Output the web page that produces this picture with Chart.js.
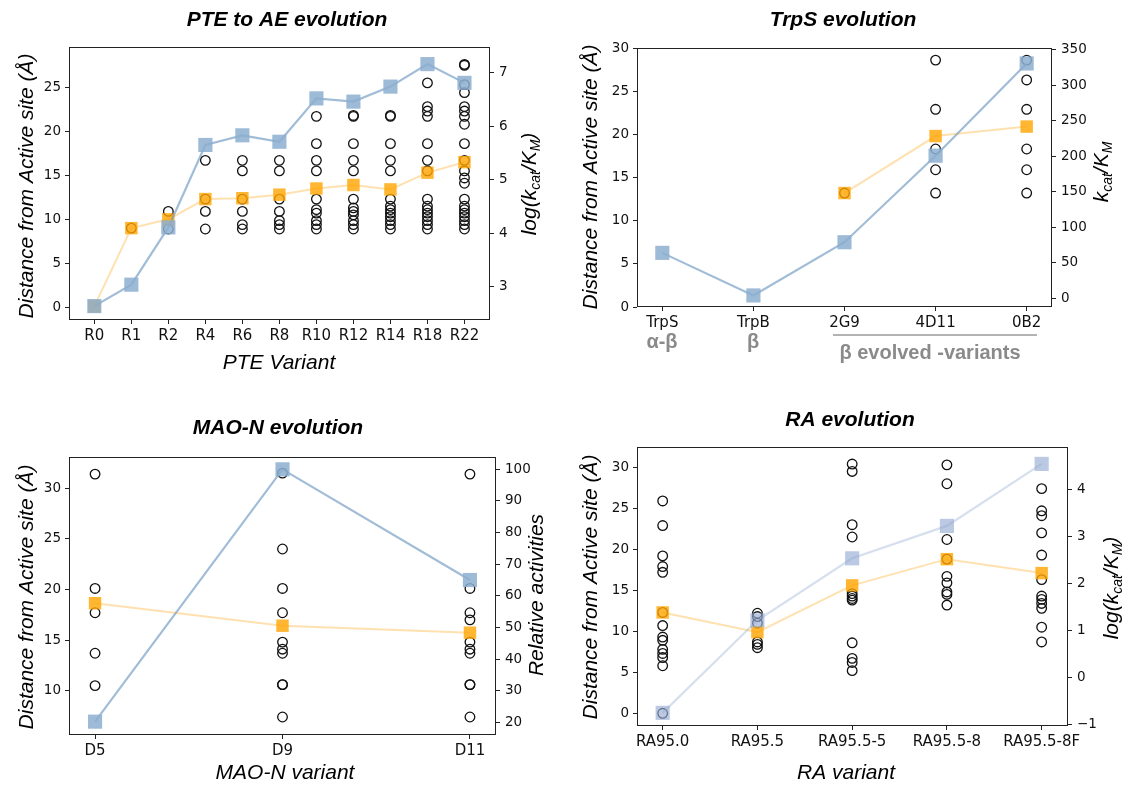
<!DOCTYPE html>
<html>
<head>
<meta charset="utf-8">
<script src="https://cdn.jsdelivr.net/npm/chart.js@4/dist/chart.umd.min.js"></script>
<style>
  body { margin: 0; background: #fff; width: 1125px; height: 785px; position: relative; overflow: hidden; }
  canvas { position: absolute; }
</style>
</head>
<body>
<canvas id="pte"></canvas>
<canvas id="trps"></canvas>
<canvas id="mao"></canvas>
<canvas id="ra"></canvas>
<script>
// ---- PTE to AE evolution ----
const pteVariants = ['R0', 'R1', 'R2', 'R4', 'R6', 'R8', 'R10', 'R12', 'R14', 'R18', 'R22'];
const pteActivity = [2.64, 3.04, 4.11, 5.65, 5.83, 5.71, 6.52, 6.46, 6.74, 7.16, 6.81];
const pteMeanDist = [0.1, 9.0, 10.0, 12.3, 12.4, 12.8, 13.5, 13.9, 13.4, 15.3, 16.5];
const pteDistances = [
  [],
  [9.0],
  [10.9, 8.9],
  [16.7, 12.3, 10.9, 8.9],
  [16.7, 15.5, 12.3, 10.9, 9.4, 8.9],
  [16.7, 15.5, 12.3, 10.9, 9.85, 9.4, 8.9],
  [21.7, 18.6, 16.7, 15.5, 12.3, 11.1, 10.7, 9.85, 9.4, 8.9],
  [21.7, 21.8, 18.6, 16.7, 15.5, 12.3, 11.3, 10.9, 10.5, 9.85, 9.4, 8.9],
  [21.7, 21.8, 18.6, 16.7, 15.5, 12.3, 11.5, 11.1, 10.7, 10.3, 9.85, 9.4, 8.9],
  [25.5, 22.8, 22.3, 21.7, 18.6, 16.7, 15.5, 12.3, 11.5, 11.1, 10.7, 10.3, 9.85, 9.4, 8.9],
  [27.6, 27.5, 25.3, 24.4, 22.8, 22.3, 21.7, 20.8, 18.6, 16.7, 15.5, 14.7, 14.1, 12.3, 11.5, 11.1, 10.7, 10.3, 9.85, 9.4, 8.9]
];
const pteLeftTicks = [0, 5, 10, 15, 20, 25];
const pteRightTicks = [3, 4, 5, 6, 7];

// ---- TrpS evolution ----
const trpVariants = ['TrpS', 'TrpB', '2G9', '4D11', '0B2'];
const trpActivity = [64, 4, 79, 201, 331];
const trpMeanDist = [null, null, 13.2, 19.8, 20.9];
const trpDistances = [[], [], [13.2], [28.6, 22.9, 18.3, 15.9, 13.2], [28.6, 26.3, 22.9, 18.3, 15.9, 13.2]];
const trpLeftTicks = [0, 5, 10, 15, 20, 25, 30];
const trpRightTicks = [0, 50, 100, 150, 200, 250, 300, 350];

// ---- MAO-N evolution ----
const maoVariants = ['D5', 'D9', 'D11'];
const maoActivity = [20.2, 100, 65];
const maoMeanDist = [18.64, 16.42, 15.73];
const maoDistances = [
  [31.4, 20.1, 17.7, 13.7, 10.5],
  [31.5, 24.0, 20.1, 17.7, 14.8, 14.1, 13.7, 10.6, 10.6, 7.4],
  [31.4, 20.1, 17.7, 17.0, 14.8, 14.1, 13.7, 10.6, 10.6, 7.4]
];
const maoLeftTicks = [10, 15, 20, 25, 30];
const maoRightTicks = [20, 30, 40, 50, 60, 70, 80, 90, 100];

// ---- RA evolution ----
const raVariants = ['RA95.0', 'RA95.5', 'RA95.5-5', 'RA95.5-8', 'RA95.5-8F'];
const raActivity = [-0.76, 1.21, 2.53, 3.22, 4.54];
const raMeanDist = [12.3, 9.9, 15.6, 18.8, 17.1];
const raDistances = [
  [25.9, 22.9, 19.2, 17.9, 17.2, 12.3, 10.7, 9.3, 8.9, 7.8, 7.3, 6.8, 5.8, 0],
  [12.2, 11.8, 11.0, 8.7, 8.4, 8.0],
  [30.4, 29.5, 23.0, 21.5, 14.6, 14.3, 14.0, 13.8, 8.6, 6.7, 6.2, 5.2],
  [30.3, 28.0, 21.2, 18.8, 16.7, 15.9, 14.8, 14.5, 13.2],
  [27.4, 24.7, 24.1, 22.0, 19.3, 16.3, 14.3, 13.9, 13.4, 12.8, 10.5, 8.7]
];
const raLeftTicks = [0, 5, 10, 15, 20, 25, 30];
const raRightTicks = [-1, 0, 1, 2, 3, 4];

const TITLE_FONT = 'bold italic 21px "Liberation Sans", Arial, sans-serif';
const LABEL_FONT = 'italic 21px "Liberation Sans", Arial, sans-serif';
const SUB_FONT = 'italic 14px "Liberation Sans", Arial, sans-serif';
const GRAY_FONT = 'bold 20px "Liberation Sans", Arial, sans-serif';
const DIST_LABEL = 'Distance from Active site (Å)';
const logKcat = [{t: 'log(k'}, {t: 'cat', sub: true}, {t: '/K'}, {t: 'M', sub: true}, {t: ')'}];
const kcat = [{t: 'k'}, {t: 'cat', sub: true}, {t: '/K'}, {t: 'M', sub: true}];

function drawParts(ctx, parts, x, y, rotate, font, color) {
  ctx.save();
  ctx.translate(x, y);
  if (rotate) ctx.rotate(-Math.PI / 2);
  ctx.fillStyle = color || '#000';
  ctx.textBaseline = 'middle';
  ctx.textAlign = 'left';
  let total = 0;
  parts.forEach(p => { ctx.font = p.sub ? SUB_FONT : font; total += ctx.measureText(p.t).width; });
  let cx = -total / 2;
  parts.forEach(p => {
    ctx.font = p.sub ? SUB_FONT : font;
    ctx.fillText(p.t, cx, p.sub ? 6 : 0);
    cx += ctx.measureText(p.t).width;
  });
  ctx.restore();
}

// frame round the plot + all the titles (page coordinates, shifted to the canvas)
const textPlugin = {
  id: 'panelText',
  afterDraw(chart, args, o) {
    const ctx = chart.ctx;
    const a = chart.chartArea;
    const [x0, y0] = o.origin;
    ctx.save();
    ctx.strokeStyle = '#222';
    ctx.lineWidth = 1;
    ctx.strokeRect(Math.round(a.left) + 0.5, Math.round(a.top) + 0.5, Math.round(a.right - a.left) - 1, Math.round(a.bottom - a.top) - 1);
    (o.lines || []).forEach(l => {
      ctx.strokeStyle = l.color;
      ctx.lineWidth = l.width;
      ctx.beginPath();
      ctx.moveTo(l.x1 - x0, l.y - y0);
      ctx.lineTo(l.x2 - x0, l.y - y0);
      ctx.stroke();
    });
    o.texts.forEach(t => {
      const parts = typeof t.text === 'string' ? [{t: t.text}] : t.text;
      drawParts(ctx, parts, t.x - x0, t.y - y0, t.rotate, t.font, t.color);
    });
    ctx.restore();
  }
};

const WL = 50, WR = 45, HX = 30;

function panel(id, opt) {
  const [x0, y0, w, h] = opt.box;
  const [pl, pt, pr, pb] = opt.plot;
  const cv = document.getElementById(id);
  cv.width = w; cv.height = h;
  cv.style.left = x0 + 'px'; cv.style.top = y0 + 'px';
  const pointsOf = list => list.map((v, i) => (v === null ? null : {x: i, y: v})).filter(Boolean);
  const circles = opt.dists.flatMap((list, i) => list.map(v => ({x: i, y: v})));
  const xFont = {family: '"DejaVu Sans", sans-serif', size: 15};
  const yFont = {family: '"DejaVu Sans", sans-serif', size: 13.5};
  const grid = {display: true, drawOnChartArea: false, drawTicks: true, tickLength: 4, tickColor: '#222', color: '#222'};
  const minus = v => (v < 0 ? '\u2212' + Math.abs(v) : String(v));

  new Chart(cv, {
    type: 'scatter',
    data: {
      datasets: [
        {
          data: circles, yAxisID: 'y', order: 3,
          pointStyle: 'circle', pointRadius: 4.8, pointBorderWidth: 1.3,
          pointBorderColor: '#111', pointBackgroundColor: 'rgba(0,0,0,0)'
        },
        {
          data: pointsOf(opt.mean), yAxisID: 'y', order: 2, showLine: true,
          borderColor: opt.orangeLine, borderWidth: 2,
          pointStyle: 'rect', pointRadius: 8.8, pointBorderWidth: 0, pointBackgroundColor: 'rgba(255,165,0,0.8)'
        },
        {
          data: pointsOf(opt.act), yAxisID: 'y2', order: 1, showLine: true,
          borderColor: opt.blueLine, borderWidth: 2.2,
          pointStyle: 'rect', pointRadius: 10, pointBorderWidth: 0, pointBackgroundColor: opt.blueFill
        }
      ]
    },
    options: {
      responsive: false,
      animation: false,
      devicePixelRatio: 1,
      events: [],
      layout: {padding: {left: pl - x0 - WL, top: pt - y0, right: x0 + w - pr - WR, bottom: y0 + h - pb - HX}},
      plugins: {
        legend: {display: false},
        tooltip: {enabled: false},
        panelText: {origin: [x0, y0], texts: opt.texts, lines: opt.lines}
      },
      scales: {
        x: {
          type: 'linear', min: opt.xRange[0], max: opt.xRange[1],
          afterFit: s => { s.height = HX; },
          afterBuildTicks: s => { s.ticks = opt.cats.map((c, i) => ({value: i})); },
          ticks: {callback: v => opt.cats[v], font: xFont, color: '#111', padding: 3, autoSkip: false, maxRotation: 0},
          grid: grid, border: {display: false}
        },
        y: {
          type: 'linear', position: 'left', min: opt.leftRange[0], max: opt.leftRange[1],
          afterFit: s => { s.width = WL; },
          afterBuildTicks: s => { s.ticks = opt.leftTicks.map(v => ({value: v})); },
          ticks: {callback: minus, font: yFont, color: '#111', padding: 4},
          grid: grid, border: {display: false}
        },
        y2: {
          type: 'linear', position: 'right', min: opt.rightRange[0], max: opt.rightRange[1],
          afterFit: s => { s.width = WR; },
          afterBuildTicks: s => { s.ticks = opt.rightTicks.map(v => ({value: v})); },
          ticks: {callback: minus, font: yFont, color: '#111', padding: 5},
          grid: grid, border: {display: false}
        }
      }
    },
    plugins: [textPlugin]
  });
}

const steelFill = 'rgba(140,174,208,0.85)';
const steelLine = 'rgba(110,152,194,0.65)';
const orangeLine = 'rgba(255,170,30,0.35)';

panel('pte', {
  box: [0, 0, 560, 392], plot: [69, 47, 490, 320],
  cats: pteVariants, dists: pteDistances, mean: pteMeanDist, act: pteActivity,
  xRange: [-0.684, 10.69], leftRange: [-1.44, 29.58], rightRange: [2.38, 7.48],
  leftTicks: pteLeftTicks, rightTicks: pteRightTicks,
  blueFill: steelFill, blueLine: steelLine, orangeLine: orangeLine,
  texts: [
    {text: 'PTE to AE evolution', x: 287, y: 20, font: TITLE_FONT},
    {text: DIST_LABEL, x: 27, y: 186, rotate: true, font: LABEL_FONT},
    {text: logKcat, x: 530, y: 184, rotate: true, font: LABEL_FONT},
    {text: 'PTE Variant', x: 279, y: 363, font: LABEL_FONT}
  ]
});

panel('trps', {
  box: [560, 0, 565, 392], plot: [637, 48, 1052, 307],
  cats: trpVariants, dists: trpDistances, mean: trpMeanDist, act: trpActivity,
  xRange: [-0.278, 4.278], leftRange: [0, 30], rightRange: [-12.3, 352.8],
  leftTicks: trpLeftTicks, rightTicks: trpRightTicks,
  blueFill: steelFill, blueLine: steelLine, orangeLine: orangeLine,
  texts: [
    {text: 'TrpS evolution', x: 843, y: 20, font: TITLE_FONT},
    {text: DIST_LABEL, x: 591, y: 177, rotate: true, font: LABEL_FONT},
    {text: kcat, x: 1102, y: 172, rotate: true, font: LABEL_FONT},
    {text: 'α-β', x: 662, y: 342, font: GRAY_FONT, color: '#8a8a8a'},
    {text: 'β', x: 753, y: 342, font: GRAY_FONT, color: '#8a8a8a'},
    {text: 'β evolved -variants', x: 930, y: 353, font: GRAY_FONT, color: '#8a8a8a'}
  ],
  lines: [{x1: 833, x2: 1037, y: 335, color: '#9a9a9a', width: 1.5}]
});

panel('mao', {
  box: [0, 392, 560, 393], plot: [69, 457, 496, 735],
  cats: maoVariants, dists: maoDistances, mean: maoMeanDist, act: maoActivity,
  xRange: [-0.139, 2.139], leftRange: [5.62, 33.09], rightRange: [15.98, 103.9],
  leftTicks: maoLeftTicks, rightTicks: maoRightTicks,
  blueFill: steelFill, blueLine: steelLine, orangeLine: orangeLine,
  texts: [
    {text: 'MAO-N evolution', x: 278, y: 428, font: TITLE_FONT},
    {text: DIST_LABEL, x: 27, y: 597, rotate: true, font: LABEL_FONT},
    {text: 'Relative activities', x: 537, y: 595, rotate: true, font: LABEL_FONT},
    {text: 'MAO-N variant', x: 285, y: 773, font: LABEL_FONT}
  ]
});

panel('ra', {
  box: [560, 392, 565, 393], plot: [637, 447, 1068, 726],
  cats: raVariants, dists: raDistances, mean: raMeanDist, act: raActivity,
  xRange: [-0.271, 4.278], leftRange: [-1.55, 32.48], rightRange: [-1.04, 4.90],
  leftTicks: raLeftTicks, rightTicks: raRightTicks,
  blueFill: 'rgba(150,172,210,0.65)', blueLine: 'rgba(120,150,200,0.3)', orangeLine: orangeLine,
  texts: [
    {text: 'RA evolution', x: 850, y: 420, font: TITLE_FONT},
    {text: DIST_LABEL, x: 591, y: 587, rotate: true, font: LABEL_FONT},
    {text: logKcat, x: 1112, y: 588, rotate: true, font: LABEL_FONT},
    {text: 'RA variant', x: 846, y: 773, font: LABEL_FONT}
  ]
});
</script>
</body>
</html>
